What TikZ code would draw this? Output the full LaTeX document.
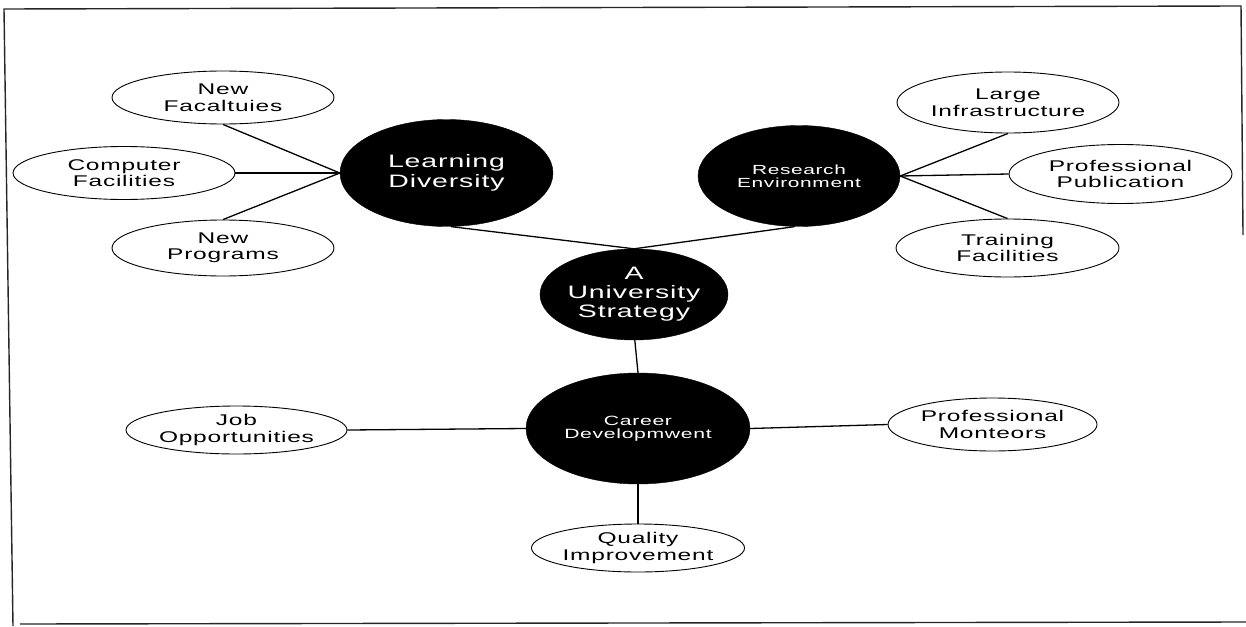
\documentclass[tikz,border=0pt]{standalone}
\usepackage{fontspec}
\usetikzlibrary{shapes.geometric}
\newfontfamily\mapfont[FakeStretch=1.58,LetterSpace=5]{Liberation Sans}
\tikzset{
  leaf/.style={ellipse, draw=black, line width=0.9pt, fill=white, inner sep=0pt,
    align=center, font=\mapfont\fontsize{15.5}{16.5}\selectfont},
  hub/.style={ellipse, fill=black, draw=black, inner sep=0pt, text=white, align=center},
  link/.style={draw=black, line width=1.3pt},
  frame/.style={draw=black!85, line width=1.4pt}
}
\begin{document}
\begin{tikzpicture}[x=1pt,y=-1pt]
\useasboundingbox (0,0) rectangle (1246,626);

% page frame (slightly skewed)
\coordinate (f1) at (4,9);
\coordinate (f2) at (1241,6);
\coordinate (f3) at (1243,235);
\coordinate (f4) at (13,626);
\coordinate (f5) at (20,624);
\coordinate (f6) at (1246,622);
\draw[frame] (f3) -- (f2) -- (f1) -- (f4);
\draw[frame] (f5) -- (f6);

% central hubs
\node[hub, minimum width=213pt, minimum height=107pt,
  font=\mapfont\fontsize{18}{20}\selectfont] (ld) at (446.5,173) {Learning\\Diversity};
\node[hub, minimum width=202pt, minimum height=101pt,
  font=\mapfont\fontsize{13.2}{13}\selectfont] (re) at (799,176) {Research\\Environment};
\node[hub, minimum width=180pt, minimum height=91pt,
  font=\mapfont\fontsize{18}{19}\selectfont] (us) at (634,294.5) {A\\University\\Strategy};
\node[hub, minimum width=224pt, minimum height=111pt,
  font=\mapfont\fontsize{13.4}{13.5}\selectfont] (cd) at (638,428.5) {Career\\Developmwent};

% learning diversity branch
\node[leaf, minimum width=222pt, minimum height=53pt] (nf) at (223,97.5) {New\\Facaltuies};
\node[leaf, minimum width=222pt, minimum height=53pt] (cf) at (124,173) {Computer\\Facilities};
\node[leaf, minimum width=222pt, minimum height=56pt] (np) at (223,248) {New\\Programs};

% research environment branch
\node[leaf, minimum width=222pt, minimum height=61pt] (li) at (1008,102.5) {Large\\Infrastructure};
\node[leaf, minimum width=223pt, minimum height=59pt] (pp) at (1120.5,174) {Professional\\Publication};
\node[leaf, minimum width=223pt, minimum height=58pt] (tf) at (1007.5,248) {Training\\Facilities};

% career development branch
\node[leaf, minimum width=221pt, minimum height=48pt] (jo) at (236.5,430) {Job\\Opportunities};
\node[leaf, minimum width=209pt, minimum height=53pt] (pm) at (992.5,424.5) {Professional\\Monteors};
\node[leaf, minimum width=210pt, minimum height=48pt] (qi) at (638,548) {Quality\\Improvement};

% connectors
\draw[link] (ld.west) -- (nf.south);
\draw[link] (ld.west) -- (cf.east);
\draw[link] (ld.west) -- (np.north);
\draw[link] (ld.-85) -- (us.north);
\draw[link] (re.-95) -- (us.north);
\draw[link] (re.east) -- (li.south);
\draw[link] (re.east) -- (pp.west);
\draw[link] (re.east) -- (tf.north);
\draw[link] (us.-89) -- (cd.north);
\draw[link] (cd.west) -- (jo.east);
\draw[link] (cd.east) -- (pm.west);
\draw[link] (cd.south) -- (qi.north);
\end{tikzpicture}
\end{document}
